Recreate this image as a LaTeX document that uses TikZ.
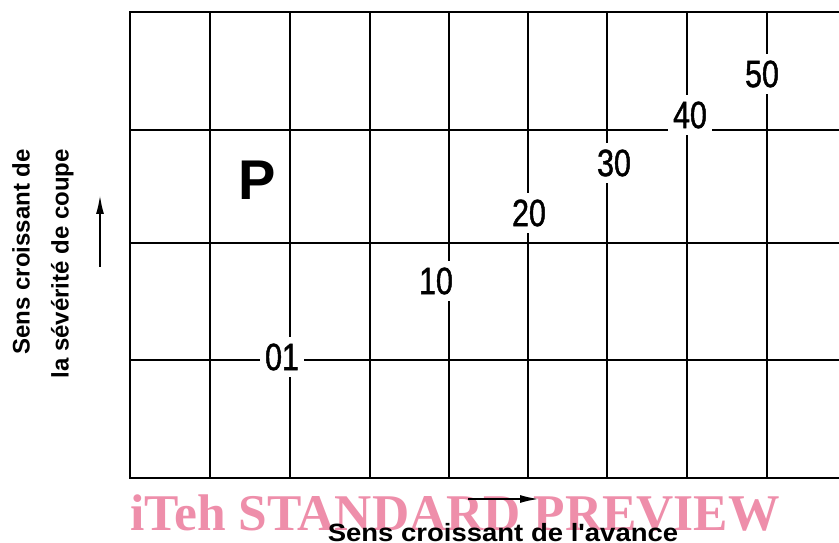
\documentclass[tikz,border=0pt]{standalone}
\usepackage{fontspec}
\setsansfont{Liberation Sans}
\newfontfamily\numfont[FakeStretch=0.8, FakeBold=1.2]{Liberation Sans}
\newfontfamily\widefont[FakeStretch=1.1]{Liberation Sans}
\newfontfamily\wmfont{Liberation Serif}
\usetikzlibrary{arrows.meta}
\definecolor{wmpink}{RGB}{238,142,170}

\begin{document}
\begin{tikzpicture}[x=1pt, y=1pt, >={Latex[length=19pt, width=8pt]},
  gridline/.style={line width=2.6pt, line cap=rect},
  numlbl/.style={fill=white, inner xsep=5pt, inner ysep=7pt, font=\numfont\fontsize{38}{38}\selectfont},
  axislbl/.style={font=\sffamily\bfseries\fontsize{24}{39}\selectfont, inner sep=0pt}]
  \useasboundingbox (0,0) rectangle (839,542);
  \foreach \y in {530, 412, 299, 182, 64} \draw[gridline] (130,\y) -- (839,\y);
  \foreach \x in {130, 210, 290, 370, 449, 528, 607, 687, 767} \draw[gridline] (\x,530) -- (\x,64);

  \node[numlbl] (n01) at (282,185) {01};
  \node[numlbl] (n10) at (436,261) {10};
  \node[numlbl] (n20) at (529,329) {20};
  \node[numlbl] (n30) at (614,379) {30};
  \node[numlbl] (n40) at (690,427) {40};
  \node[numlbl] (n50) at (762,468) {50};
  \node[font=\sffamily\bfseries\fontsize{56}{56}\selectfont] (p) at (257,362) {P};

  \coordinate (sevlow) at (100,275);
  \coordinate (sevhigh) at (100,347);
  \draw[->, line width=2pt] (sevlow) -- (sevhigh);
  \node[axislbl, rotate=90, align=right, anchor=north east] (sevlbl) at (12,393) {Sens croissant de\\la sévérité de coupe};

  \node[font=\wmfont\bfseries\fontsize{51.5}{51.5}\selectfont, text=wmpink, anchor=base west, inner sep=0pt] (wm) at (130,12) {iTeh STANDARD PREVIEW};

  \coordinate (feedlow) at (468,43);
  \coordinate (feedhigh) at (539,43);
  \draw[->, line width=2pt] (feedlow) -- (feedhigh);
  \node[axislbl, font=\widefont\bfseries\fontsize{25}{25}\selectfont, anchor=base] (feedlbl) at (503,1) {Sens croissant de l'avance};
\end{tikzpicture}
\end{document}
